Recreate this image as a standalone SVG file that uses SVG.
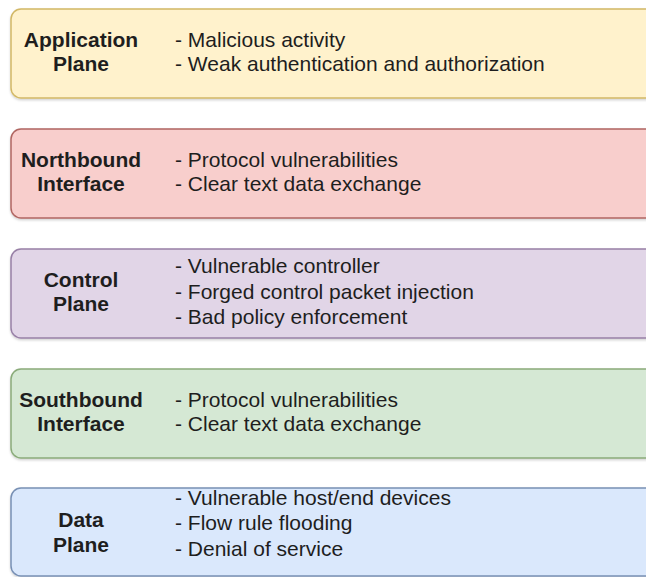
<svg xmlns="http://www.w3.org/2000/svg" width="646" height="577" viewBox="0 0 646 577">
  <defs>
    <filter id="sh" x="-5%" y="-10%" width="110%" height="130%">
      <feDropShadow dx="0" dy="1.5" stdDeviation="1" flood-color="#000" flood-opacity="0.18"/>
    </filter>
    <style>
      .box { stroke-width: 1.5; filter: url(#sh); }
      .lbl { font-family: "Liberation Sans", Arial, sans-serif; font-size: 21px; font-weight: bold; fill: #1e1e1e; text-anchor: middle; }
      .itm { font-family: "Liberation Sans", Arial, sans-serif; font-size: 21px; fill: #1e1e1e; }
    </style>
  </defs>
  <rect width="646" height="577" fill="#ffffff"/>
  <g id="application-plane">
    <rect class="box" x="11" y="9" width="650" height="89" rx="10" fill="#fff2cc" stroke="#d2b866"/>
    <text class="lbl" x="81" y="47">Application</text>
    <text class="lbl" x="81" y="71">Plane</text>
    <text class="itm" x="175" y="47">- Malicious activity</text>
    <text class="itm" x="175" y="71">- Weak authentication and authorization</text>
  </g>
  <g id="northbound-interface">
    <rect class="box" x="11" y="129" width="650" height="89" rx="10" fill="#f8cecc" stroke="#b06662"/>
    <text class="lbl" x="81" y="167">Northbound</text>
    <text class="lbl" x="81" y="191">Interface</text>
    <text class="itm" x="175" y="167">- Protocol vulnerabilities</text>
    <text class="itm" x="175" y="191">- Clear text data exchange</text>
  </g>
  <g id="control-plane">
    <rect class="box" x="11" y="249" width="650" height="89" rx="10" fill="#e1d5e7" stroke="#9880a6"/>
    <text class="lbl" x="81" y="287">Control</text>
    <text class="lbl" x="81" y="311">Plane</text>
    <text class="itm" x="175" y="273">- Vulnerable controller</text>
    <text class="itm" x="175" y="299">- Forged control packet injection</text>
    <text class="itm" x="175" y="324">- Bad policy enforcement</text>
  </g>
  <g id="southbound-interface">
    <rect class="box" x="11" y="369" width="650" height="89" rx="10" fill="#d5e8d4" stroke="#8aab7a"/>
    <text class="lbl" x="81" y="407">Southbound</text>
    <text class="lbl" x="81" y="431">Interface</text>
    <text class="itm" x="175" y="407">- Protocol vulnerabilities</text>
    <text class="itm" x="175" y="431">- Clear text data exchange</text>
  </g>
  <g id="data-plane">
    <rect class="box" x="11" y="488" width="650" height="88" rx="10" fill="#dae8fc" stroke="#7890b4"/>
    <text class="lbl" x="81" y="527">Data</text>
    <text class="lbl" x="81" y="552">Plane</text>
    <text class="itm" x="175" y="505">- Vulnerable host/end devices</text>
    <text class="itm" x="175" y="530">- Flow rule flooding</text>
    <text class="itm" x="175" y="556">- Denial of service</text>
  </g>
  <g id="connectors"/>
</svg>
